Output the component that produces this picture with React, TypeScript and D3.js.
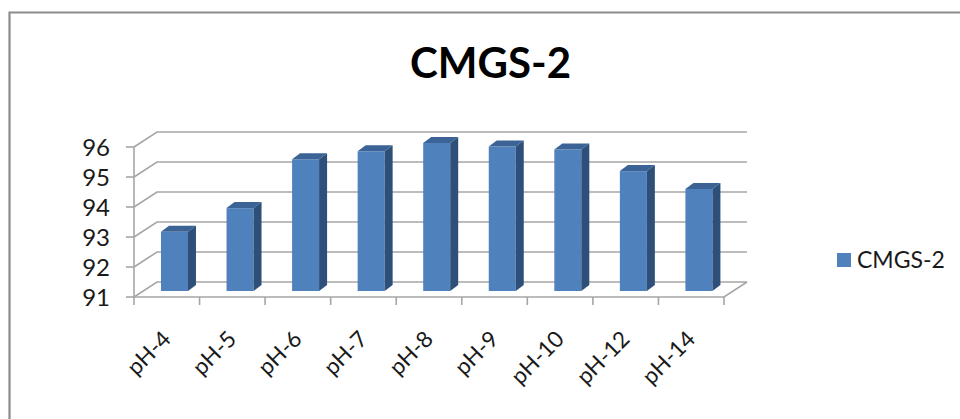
import React from "react";
import * as d3 from "d3";

const categories = ["pH-4", "pH-5", "pH-6", "pH-7", "pH-8", "pH-9", "pH-10", "pH-12", "pH-14"];
const values = [93.0, 93.8, 95.45, 95.72, 96.0, 95.88, 95.78, 95.05, 94.45];
const yTicks = [91, 92, 93, 94, 95, 96];
const seriesName = "CMGS-2";
const titleText = "CMGS-2";

const W = 960, H = 419;
const axisX0 = 134, axisX1 = 724;
const dx = 23, dy = -15;
const barDx = 8, barDy = -6;
const x = d3.scaleBand<string>().domain(categories).range([axisX0, axisX1]);
const yFront = d3.scaleLinear().domain([91, 96]).range([297, 147]);
const yBar = d3.scaleLinear().domain([91, 96]).range([291, 143]);
const barW = 27;
const grid = "#a6a6a6";
const font = "Lato, 'Open Sans', sans-serif";

export default function App() {
  return (
    <svg width={W} height={H} viewBox={`0 0 ${W} ${H}`} style={{ position: "absolute", left: 0, top: 0, background: "#fff" }}>
      <defs>
        <filter id="soft" x="-5%" y="-5%" width="110%" height="110%">
          <feGaussianBlur stdDeviation="0.45" />
        </filter>
      </defs>
      <g filter="url(#soft)">
        <path d={`M9.5 419V12.5H960`} fill="none" stroke="#8c8c8c" strokeWidth={2.2} />
        {yTicks.map((t) => {
          const yy = yFront(t);
          return (
            <g key={t} stroke={grid} strokeWidth={1.6} fill="none">
              <path d={`M${axisX0} ${yy}L${axisX0 + dx} ${yy + dy}H${axisX1 + dx}`} />
              <line x1={axisX0 - 8} x2={axisX0} y1={yy} y2={yy} />
            </g>
          );
        })}
        <g stroke={grid} strokeWidth={1.6} fill="none">
          <line x1={axisX0} x2={axisX0} y1={yFront(96)} y2={yFront(91) + 8} />
          <path d={`M${axisX0} ${yFront(91)}H${axisX1}L${axisX1 + dx} ${yFront(91) + dy}`} />
          {categories.map((c) => (
            <line key={c} x1={x(c)! + x.bandwidth()} x2={x(c)! + x.bandwidth()} y1={yFront(91)} y2={yFront(91) + 8} />
          ))}
        </g>
        {categories.map((c, i) => {
          const left = x(c)! + (x.bandwidth() - barW) / 2 + 7.7;
          const top = yBar(values[i]);
          const bottom = yBar(91);
          return (
            <g key={c}>
              <rect x={left} y={top} width={barW} height={bottom - top} fill="#4f81bd" />
              <path d={`M${left} ${top}l${barDx} ${barDy}h${barW}l${-barDx} ${-barDy}z`} fill="#3a6496" />
              <path d={`M${left + barW} ${top}l${barDx} ${barDy}V${bottom + barDy}l${-barDx} ${-barDy}z`} fill="#2f5079" />
            </g>
          );
        })}
      </g>
      <text x={490.5} y={78} textAnchor="middle" fontFamily={font} fontWeight={700} fontSize={42} fill="#000">{titleText}</text>
      {yTicks.map((t) => (
        <text key={t} x={110} y={yFront(t) + 9} textAnchor="end" fontFamily={font} fontSize={24} fill="#1a1a1a">{t}</text>
      ))}
      {categories.map((c) => {
        const cx = x(c)! + x.bandwidth() / 2 - 7;
        return (
          <text key={c} transform={`translate(${cx},328) rotate(-45)`} textAnchor="end" dominantBaseline="hanging" fontFamily={font} fontSize={22.5} fill="#1a1a1a">{c}</text>
        );
      })}
      <rect x={837} y={253} width={14} height={14} fill="#4f81bd" />
      <text x={857} y={268} fontFamily={font} fontSize={23} fill="#1a1a1a">{seriesName}</text>
    </svg>
  );
}
